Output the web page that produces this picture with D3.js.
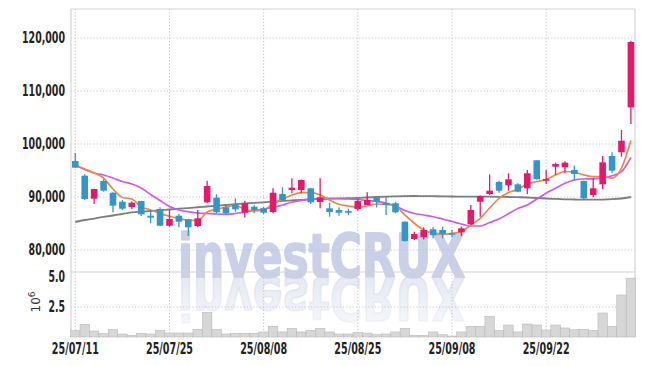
<!DOCTYPE html>
<html><head><meta charset="utf-8">
<script src="https://cdn.jsdelivr.net/npm/d3@7"></script>
<style>
body{margin:0;background:#fff;}
svg{display:block;}
.lbl{font-family:"Liberation Sans Narrow","DejaVu Sans Condensed","Arial Narrow",sans-serif;font-weight:bold;font-size:15px;fill:#222;}
</style></head><body>
<svg id="c" width="645" height="366"></svg>
<script>
const dates=["25/07/11","25/07/14","25/07/15","25/07/16","25/07/17","25/07/18","25/07/21","25/07/22","25/07/23","25/07/24",
"25/07/25","25/07/28","25/07/29","25/07/30","25/07/31","25/08/01","25/08/04","25/08/05","25/08/06","25/08/07",
"25/08/08","25/08/11","25/08/12","25/08/13","25/08/14","25/08/18","25/08/19","25/08/20","25/08/21","25/08/22",
"25/08/25","25/08/26","25/08/27","25/08/28","25/08/29","25/09/01","25/09/02","25/09/03","25/09/04","25/09/05",
"25/09/08","25/09/09","25/09/10","25/09/11","25/09/12","25/09/15","25/09/16","25/09/17","25/09/18","25/09/19",
"25/09/22","25/09/23","25/09/24","25/09/25","25/09/26","25/09/29","25/09/30","25/10/01","25/10/02","25/10/10"];
const open=[96790,94020,89680,93020,90810,89110,88110,89240,86470,87730,
84580,86470,85790,84530,89000,89870,88050,88620,87040,88170,
87870,87170,90570,91320,91320,91640,89060,87870,87550,87360,
87730,88490,89940,88870,88810,85340,82080,82400,83900,83770,
83150,83340,84850,89110,90570,92830,92200,92390,91640,96920,
93070,95720,95600,95090,93020,90380,92390,97740,98430,106920];
const high=[98300,94280,91570,93340,90900,89430,89190,89300,87550,88050,
87550,86790,85900,87550,93070,90510,88300,89750,89300,88430,
88180,91640,91830,93530,93300,91700,93530,88920,88050,87800,
89620,90890,90060,90060,89110,85400,83460,84280,84280,84400,
83770,84400,88490,90300,94280,93070,94470,92580,95090,96950,
95090,96480,96730,95910,93100,93530,97740,98430,102640,119500];
const low=[95500,89430,88680,91000,87110,87550,87740,86410,85040,84500,
84400,84280,82640,84280,88800,86900,86700,87230,86170,86920,
86800,86900,89110,90700,90700,88680,87870,86290,86470,86600,
87420,88490,88050,86600,86920,81600,81900,82000,82200,82200,
82400,82640,84700,86290,90380,90810,91190,90900,90570,93300,
92450,94150,94470,93070,89560,89940,91510,94470,97600,103770];
const close=[95530,89620,91510,91190,88360,87790,88920,86730,86100,84580,
85850,85340,84280,85980,92070,87110,86920,87680,88810,87550,
87040,90810,89430,91760,93200,89000,89940,87170,87040,87040,
89240,89430,89110,88490,87110,81700,83020,83770,82770,83020,
82960,84090,87550,90190,91190,91190,93340,91000,94470,93340,
93400,96230,96480,94340,89750,91640,96540,94960,100620,119250];
const volume=[530000,1060000,500000,300000,610000,250000,140000,300000,250000,550000,
330000,330000,330000,640000,2050000,640000,250000,300000,300000,300000,
420000,890000,420000,720000,420000,550000,720000,420000,250000,250000,
360000,330000,190000,250000,420000,720000,140000,140000,420000,190000,
80000,420000,890000,890000,1720000,550000,1000000,420000,1080000,1000000,
580000,1000000,750000,610000,640000,550000,2000000,890000,3500000,4900000];
const ma5=[96040,95280,94530,93580,91510,89910,89620,88170,87550,86920,
86360,85910,85600,85600,87170,87680,88110,88400,87680,87360,
87550,88680,89570,90380,90810,90810,90380,89430,88620,88300,
88060,88300,88680,88620,88300,86600,85040,83770,83150,82960,
83150,83450,84720,85980,87920,89750,90850,91450,92450,92920,
93300,94150,94810,94660,94150,93830,93830,93580,95470,100660];
const ma10=[96040,95190,94530,94150,93580,92920,92450,91700,90470,89340,
88210,87550,87230,86980,86890,86790,86740,86890,87170,87450,
87740,88020,88490,89000,89380,89570,89680,89720,89720,89620,
89530,89380,89150,88870,88300,87450,86890,86600,86280,85850,
85380,84910,84530,84530,85190,85850,86850,87830,88490,89620,
90720,91640,92580,93210,93400,93430,93580,94000,94770,97490];
const ma60=[85280,85660,85940,86230,86510,86790,87080,87230,87360,87510,
87640,87790,87920,88070,88210,88360,88490,88640,88770,88890,
89000,89130,89250,89360,89470,89550,89620,89680,89720,89770,
89810,89910,90000,90080,90130,90170,90190,90170,90150,90130,
90090,90080,90060,90060,90060,90040,90000,89960,89910,89810,
89720,89640,89570,89530,89490,89490,89510,89580,89720,90000];
const priceTicks=[80000,90000,100000,110000,120000];
const volumeTicks=[2500000,5000000];
const volumeGrid=[2500000];
const dateTicks=["25/07/11","25/07/25","25/08/08","25/08/25","25/09/08","25/09/22"];

const svg=d3.select("#c");
const L=71,R=635,T=9,B=337,VT=272;
const x=d3.scaleBand().domain(dates).range([70.6,635.6]).padding(0);
const y=d3.scaleLinear().domain([80000,120000]).range([250,38]);
const yv=d3.scaleLinear().domain([0,5000000]).range([337,277]);
const cx=d=>x(d)+x.bandwidth()/2;
const UP="#e5196c",DN="#3396c9";

// watermark
const defs=svg.append("defs");
const gr=defs.append("linearGradient").attr("id","fade").attr("x1",0).attr("y1",0).attr("x2",0).attr("y2",1);
gr.append("stop").attr("offset","0").attr("stop-color","#c9d0e6").attr("stop-opacity",0.12);
gr.append("stop").attr("offset","1").attr("stop-color","#c9d0e6").attr("stop-opacity",0.55);
const wmFont='"DejaVu Sans Condensed","Liberation Sans Narrow",sans-serif';
svg.append("text").attr("x",178).attr("y",277).attr("textLength",287).attr("lengthAdjust","spacingAndGlyphs")
  .attr("font-family",wmFont).attr("font-weight","bold").attr("font-size",60).attr("fill","#c9d0e7")
  .attr("stroke","#c9d0e7").attr("stroke-width",1.6).attr("stroke-linejoin","round").text("investCRUX");
svg.append("text").attr("x",178).attr("y",277).attr("textLength",287).attr("lengthAdjust","spacingAndGlyphs")
  .attr("transform","translate(0,554) scale(1,-1)")
  .attr("font-family",wmFont).attr("font-weight","bold").attr("font-size",60).attr("fill","url(#fade)")
  .attr("stroke","url(#fade)").attr("stroke-width",1.6).attr("stroke-linejoin","round").text("investCRUX");

// grid
const grid=svg.append("g");
grid.selectAll(".hg").data(priceTicks).join("line").attr("x1",L).attr("x2",R).attr("y1",d=>y(d)).attr("y2",d=>y(d))
  .attr("stroke","#c4c4dc").attr("stroke-dasharray","1.2,2");
grid.selectAll(".vg").data(volumeGrid).join("line").attr("x1",L).attr("x2",R).attr("y1",d=>yv(d)).attr("y2",d=>yv(d))
  .attr("stroke","#c4c4dc").attr("stroke-dasharray","1.2,2");
grid.selectAll(".xg").data(dateTicks).join("line").attr("x1",d=>cx(d)).attr("x2",d=>cx(d)).attr("y1",T).attr("y2",B)
  .attr("stroke","#c4c4d4").attr("stroke-dasharray","1.2,2");

// frame
const fr=svg.append("g").attr("stroke","#d4d4d4").attr("stroke-width",1.2);
fr.append("line").attr("x1",L).attr("x2",R).attr("y1",T).attr("y2",T);
fr.append("line").attr("x1",L).attr("x2",L).attr("y1",T).attr("y2",B);
fr.append("line").attr("x1",R).attr("x2",R).attr("y1",T).attr("y2",B);
fr.append("line").attr("x1",L).attr("x2",R).attr("y1",VT).attr("y2",VT);

// volume
svg.append("g").selectAll("rect").data(dates).join("rect")
  .attr("x",d=>x(d)).attr("width",x.bandwidth())
  .attr("y",(d,i)=>yv(volume[i])).attr("height",(d,i)=>yv(0)-yv(volume[i]))
  .attr("fill","#d7d7d7").attr("stroke","#b9b9b9").attr("stroke-width",0.6);

// moving averages
const line=arr=>d3.line().x((d,i)=>cx(dates[i])).y(d=>y(d)).curve(d3.curveMonotoneX)(arr);
svg.append("path").attr("d",line(ma60)).attr("fill","none").attr("stroke","#7d7d7d").attr("stroke-width",1.8);
svg.append("path").attr("d",line(ma10)).attr("fill","none").attr("stroke","#c95ce9").attr("stroke-width",1.7);
svg.append("path").attr("d",line(ma5)).attr("fill","none").attr("stroke","#ef8648").attr("stroke-width",1.7);

// candles
const cg=svg.append("g");
const bw=x.bandwidth()*0.7;
dates.forEach((d,i)=>{
  const c=close[i]>=open[i]?UP:DN;
  cg.append("line").attr("x1",cx(d)).attr("x2",cx(d)).attr("y1",y(high[i])).attr("y2",y(low[i])).attr("stroke",c).attr("stroke-width",1.3);
  const t=y(Math.max(open[i],close[i])), b=y(Math.min(open[i],close[i]));
  cg.append("rect").attr("x",cx(d)-bw/2).attr("width",bw).attr("y",t).attr("height",Math.max(1.5,b-t)).attr("fill",c);
});

// condense label text to the reference widths
function condense(sel, refText, refWidth){
  let f=1;
  sel.each(function(){ if(this.textContent===refText) f=refWidth/this.getComputedTextLength(); });
  sel.each(function(){ const w=this.getComputedTextLength(); d3.select(this).attr("textLength",w*f).attr("lengthAdjust","spacingAndGlyphs"); });
}

// axes
const ya=svg.append("g").attr("transform",`translate(${L},0)`)
  .call(d3.axisLeft(y).tickValues(priceTicks).tickFormat(d3.format(",")).tickSize(0).tickPadding(6));
ya.select(".domain").remove(); ya.selectAll("text").attr("class","lbl");
condense(ya.selectAll("text"),"120,000",43);
const va=svg.append("g").attr("transform",`translate(${L},0)`)
  .call(d3.axisLeft(yv).tickValues(volumeTicks).tickFormat(d=>d3.format(".1f")(d/1e6)).tickSize(0).tickPadding(6));
va.select(".domain").remove(); va.selectAll("text").attr("class","lbl");
condense(va.selectAll("text"),"5.0",16.5);
const xa=svg.append("g").attr("transform",`translate(0,${B})`)
  .call(d3.axisBottom(x).tickValues(dateTicks).tickSize(0).tickPadding(6));
xa.select(".domain").remove(); xa.selectAll("text").attr("class","lbl");
condense(xa.selectAll("text"),"25/07/11",47);

// 10^6
const t6=svg.append("text").attr("transform","translate(40,302) rotate(-90)").attr("text-anchor","middle")
  .attr("font-family","DejaVu Sans,sans-serif").attr("font-size",12).attr("fill","#333");
t6.append("tspan").text("10");
t6.append("tspan").attr("dy",-5).attr("font-size",9).text("6");
</script></body></html>
